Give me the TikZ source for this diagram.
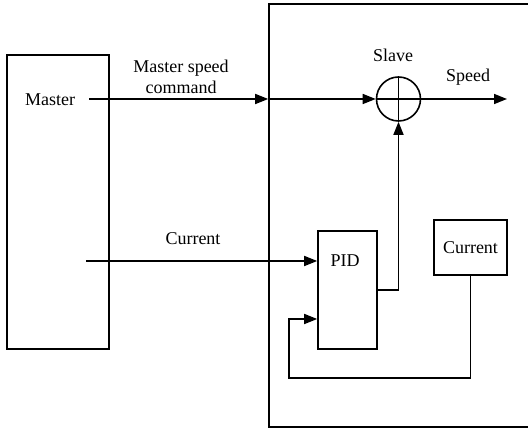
\documentclass[tikz,border=0pt]{standalone}
\usepackage{fontspec}
\setmainfont{Liberation Serif}
\usetikzlibrary{arrows.meta}

\tikzset{
flow/.style={-{Triangle[length=13pt,width=10pt]}}
}

\begin{document}
\begin{tikzpicture}[
x=1pt, y=-1pt,
line width=1.6pt,
every node/.style={
font=\fontsize{18}{21}\selectfont,
align=center,
inner sep=0pt
},
box/.style={
draw
}
]
\useasboundingbox (0,0) rectangle (528,430);
\clip (0,0) rectangle (528,430);

\node[box, minimum width=102, minimum height=294] (master) at (58,202) {};
\node (mastertxt) at (50,100) {Master};

\node[box, minimum width=290, minimum height=423] (slave) at (414,215.5) {};

\node[draw, circle, minimum size=44,
path picture={
\draw (path picture bounding box.north) -- (path picture bounding box.south);
\draw (path picture bounding box.west) -- (path picture bounding box.east);
}] (sum) at (398.5,99) {};

\node[box, minimum width=59, minimum height=118] (pid) at (347.5,290) {};
\node (pidtxt) at (345,261) {PID};
\node[box, minimum width=73, minimum height=55] (cur) at (470.5,247.5) {Current};

\node (cmdtxt) at (181,77) {Master speed\\command};
\node (slavetxt) at (393,55) {Slave};
\node (speedtxt) at (468,77) {Speed};
\node (curtxt) at (193,239) {Current};

\coordinate (msrc) at (89,99);
\coordinate (csrc) at (86,261);
\coordinate (out) at (507,99);
\coordinate (fb) at (289,378);

\draw[flow] (msrc) -- (msrc -| slave.west);
\draw[flow] (msrc -| slave.west) -- (sum.west);
\draw[flow] (sum.east) -- (out);
\draw[flow] (csrc) -- (csrc -| pid.west);
\draw[flow] (pid.east) -| (sum.south);
\draw[flow] (cur.south) |- (fb) |- ([yshift=-29pt]pid.west);

\end{tikzpicture}
\end{document}
